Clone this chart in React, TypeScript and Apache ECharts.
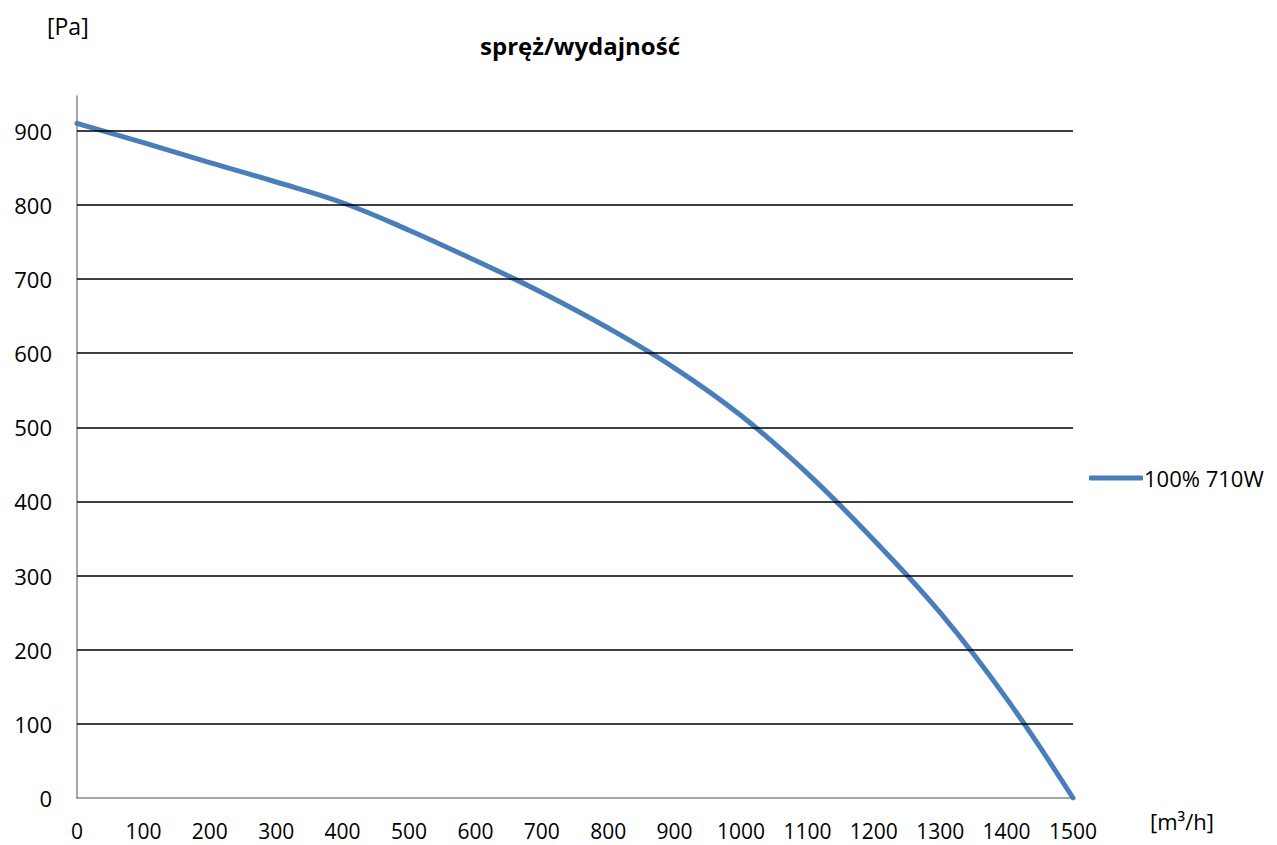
import React, { useEffect, useRef } from "react";
import * as echarts from "echarts";

const flowValues = [0, 100, 200, 300, 400, 500, 600, 700, 800, 900, 1000, 1100, 1200, 1300, 1400, 1500];
const pressureValues = [910, 884, 857, 831, 803, 766, 725, 682, 634, 580, 516, 438, 348, 250, 134, 0];
const gridLineValues = [100, 200, 300, 400, 500, 600, 700, 800, 900];
const seriesName = "100% 710W";
const titleText = "spręż/wydajność";
const yUnit = "[Pa]";
const xUnit = "[m³/h]";

const FONT = "'Open Sans', 'Noto Sans', sans-serif";

export default function App() {
  const ref = useRef<HTMLDivElement>(null);
  useEffect(() => {
    document.body.style.margin = "0";
    const chart = echarts.init(ref.current!, null, { renderer: "svg" });
    chart.setOption({
      animation: false,
      backgroundColor: "#ffffff",
      title: {
        text: titleText,
        left: 575,
        textAlign: "center",
        top: 28,
        textStyle: { fontFamily: FONT, fontSize: 24, fontWeight: "bold", color: "#000" },
      },
      graphic: [
        {
          type: "text",
          left: 47,
          top: 14,
          style: { text: yUnit, fontFamily: FONT, fontSize: 23, fill: "#000" },
        },
        {
          type: "text",
          left: 1150,
          top: 810,
          style: { text: xUnit, fontFamily: FONT, fontSize: 22, fill: "#000" },
        },
      ],
      legend: {
        data: [seriesName],
        left: 1084,
        top: 462,
        icon: "roundRect",
        itemWidth: 54,
        itemHeight: 5,
        itemGap: 5,
        textStyle: { fontFamily: FONT, fontSize: 22, color: "#000", padding: [0, 0, 0, -4] },
      },
      grid: { left: 77, right: 204, top: 96, bottom: 47, containLabel: false },
      xAxis: {
        type: "value",
        min: 0,
        max: 1500,
        interval: 100,
        axisLine: { show: true, lineStyle: { color: "#888", width: 1.5 } },
        axisTick: { show: false },
        splitLine: { show: false },
        axisLabel: {
          fontFamily: FONT,
          fontSize: 21,
          color: "#000",
          margin: 22,
          formatter: (v: number) => String(v),
        },
      },
      yAxis: {
        type: "value",
        min: 0,
        max: 947,
        interval: 100,
        axisLine: { show: true, lineStyle: { color: "#888", width: 1.5 } },
        axisTick: { show: false },
        splitLine: { show: false },
        axisLabel: {
          fontFamily: FONT,
          fontSize: 22,
          color: "#000",
          margin: 25,
          showMaxLabel: false,
          formatter: (v: number) => String(v),
        },
      },
      series: [
        {
          name: "grid",
          type: "line",
          data: [],
          z: 1,
          silent: true,
          markLine: {
            silent: true,
            symbol: "none",
            label: { show: false },
            lineStyle: { color: "#000", width: 1.5, type: "solid" },
            data: gridLineValues.map((v) => ({ yAxis: v })),
          },
        },
        {
          name: seriesName,
          type: "line",
          z: 3,
          smooth: 0.4,
          showSymbol: false,
          symbol: "none",
          lineStyle: { color: "#4a7ebb", width: 5, cap: "round" },
          itemStyle: { color: "#4a7ebb" },
          data: flowValues.map((x, i) => [x, pressureValues[i]]),
        },
      ],
    });
    return () => chart.dispose();
  }, []);
  return <div ref={ref} style={{ width: 1277, height: 845 }} />;
}
